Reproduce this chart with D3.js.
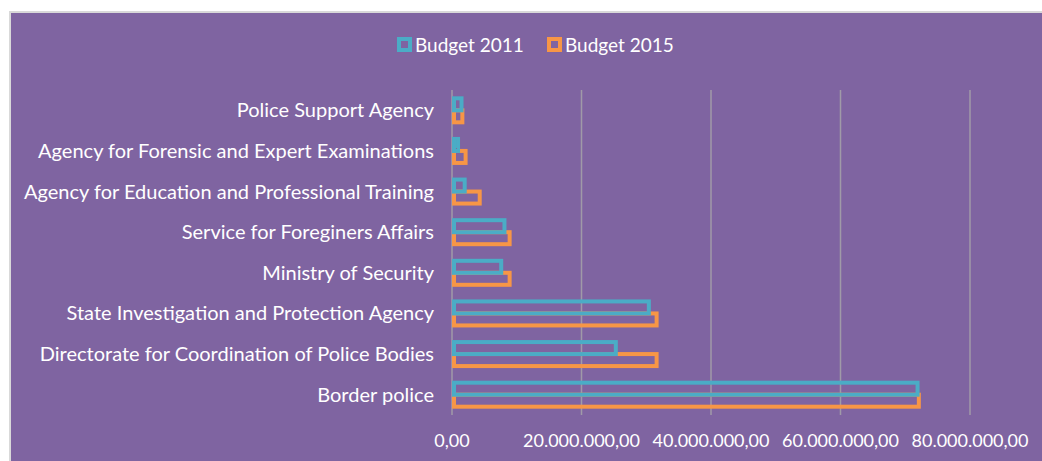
<!DOCTYPE html>
<meta charset="utf-8">
<head>
<style>
  body { margin: 0; background: #fff; }
  svg text { font-family: Lato, "Open Sans", sans-serif; fill: #fff; }
</style>
</head>
<svg id="chart" width="1042" height="461"></svg>
<script src="https://d3js.org/d3.v7.min.js"></script>
<script>

// data
var categories = [
  "Police Support Agency",
  "Agency for Forensic and Expert Examinations",
  "Agency for Education and Professional Training",
  "Service for Foreginers Affairs",
  "Ministry of Security",
  "State Investigation and Protection Agency",
  "Directorate for Coordination of Police Bodies",
  "Border police"
];
var budget2011 = [1470000, 930000, 1960000, 8100000, 7600000, 30400000, 25300000, 71900000];
var budget2015 = [1600000, 2100000, 4280000, 8900000, 8900000, 31600000, 31600000, 72100000];
var seriesNames = ["Budget 2011", "Budget 2015"];
var ticks = [0, 20000000, 40000000, 60000000, 80000000];

var colors = ["#4bacc6", "#f79646"];
var bg = "#7f64a1";

var svg = d3.select("#chart");

// panel
svg.append("rect")
  .attr("x", 10).attr("y", 12)
  .attr("width", 1040).attr("height", 460)
  .attr("fill", bg)
  .attr("stroke", "#d9d9d9").attr("stroke-width", 2);

var x = d3.scaleLinear().domain([0, 80000000]).range([452, 970]);
var y = d3.scaleBand().domain(categories).range([90, 415]);

function fmt(v) {
  // 20.000.000,00 style
  return d3.format(",.2f")(v).replace(/,/g, "#").replace(".", ",").replace(/#/g, ".");
}

// gridlines
svg.append("g")
  .selectAll("line")
  .data(ticks)
  .enter()
  .append("line")
    .attr("x1", function(d) { return x(d); })
    .attr("x2", function(d) { return x(d); })
    .attr("y1", 90).attr("y2", 415)
    .attr("stroke", "#a09aa8")
    .attr("stroke-width", 1.5);

// tick labels
svg.append("g")
  .selectAll("text")
  .data(ticks)
  .enter()
  .append("text")
    .attr("x", function(d) { return x(d); })
    .attr("y", 447)
    .attr("text-anchor", "middle")
    .style("font-size", "18px")
    .text(fmt);

// category labels
svg.append("g")
  .selectAll("text")
  .data(categories)
  .enter()
  .append("text")
    .attr("x", 434)
    .attr("y", function(d) { return y(d) + y.bandwidth() / 2 + 7; })
    .attr("text-anchor", "end")
    .style("font-size", "20px")
    .text(function(d) { return d; });

// bars: 2015 below, 2011 above (2011 drawn last)
var barH = 12;
var series = [budget2015, budget2011];
var offsets = [0, -barH];
var cols = [colors[1], colors[0]];
series.forEach(function(vals, s) {
  svg.append("g")
    .selectAll("rect")
    .data(vals)
    .enter()
    .append("rect")
      .attr("x", x(0) + 2)
      .attr("y", function(d, i) { return y(categories[i]) + y.bandwidth() / 2 + offsets[s]; })
      .attr("width", function(d) { return x(d) - x(0) - 2; })
      .attr("height", barH)
      .attr("fill", "none")
      .attr("stroke", cols[s])
      .attr("stroke-width", 4);
});

// legend
var legendX = [397, 547];
var legend = svg.append("g");
seriesNames.forEach(function(name, i) {
  legend.append("rect")
    .attr("x", legendX[i] + 2).attr("y", 39)
    .attr("width", 11).attr("height", 11)
    .attr("fill", bg)
    .attr("stroke", colors[i]).attr("stroke-width", 4);
  legend.append("text")
    .attr("x", legendX[i] + 18).attr("y", 52)
    .style("font-size", "19px")
    .text(name);
});

</script>
